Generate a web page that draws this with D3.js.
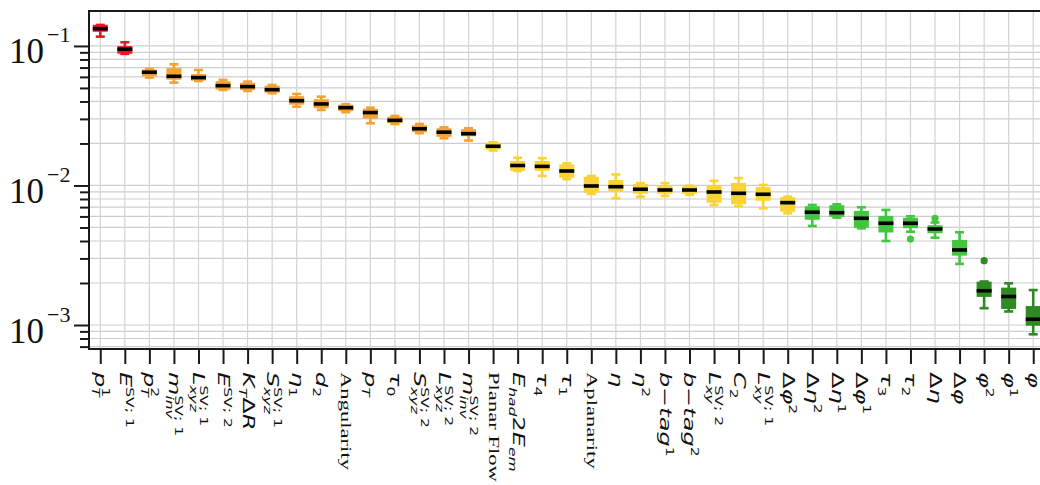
<!DOCTYPE html>
<html>
<head>
<meta charset="utf-8">
<script src="https://cdn.jsdelivr.net/npm/d3@7"></script>
<style>
  body { margin: 0; background: #fff; }
  svg { display: block; }
</style>
</head>
<body>
<svg id="chart"></svg>
<script>
// Feature names (math labels between $...$, plain ones in serif)
const features = [
  "$p_T^1$", "$E^{SV; 1}$", "$p_T^2$", "$m_{inv}^{SV; 1}$", "$L_{xyz}^{SV; 1}$",
  "$E^{SV; 2}$", "$K_TΔR$", "$S_{xyz}^{SV; 1}$", "$η_1$", "$d_2$",
  "Angularity", "$p_T$", "$τ_0$", "$S_{xyz}^{SV; 2}$", "$L_{xyz}^{SV; 2}$",
  "$m_{inv}^{SV; 2}$", "Planar Flow", "$E_{had}2E_{em}$", "$τ_4$", "$τ_1$",
  "Aplanarity", "$η$", "$η^2$", "$b−tag^1$", "$b−tag^2$",
  "$L_{xy}^{SV; 2}$", "$C_2$", "$L_{xy}^{SV; 1}$", "$Δφ^2$", "$Δη^2$",
  "$Δη^1$", "$Δφ^1$", "$τ_3$", "$τ_2$", "$Δη$",
  "$Δφ$", "$φ^2$", "$φ^1$", "$φ$"
];

// colour group of each feature
const groups = [
  "red", "red",
  "orange", "orange", "orange", "orange", "orange", "orange", "orange", "orange",
  "orange", "orange", "orange", "orange", "orange", "orange",
  "yellow", "yellow", "yellow", "yellow", "yellow", "yellow", "yellow", "yellow",
  "yellow", "yellow", "yellow", "yellow", "yellow",
  "green", "green", "green", "green", "green", "green", "green",
  "dkgreen", "dkgreen", "dkgreen"
];

const whiskerHi = [
  0.1414, 0.1063, 0.0684, 0.0739, 0.0673, 0.0571, 0.0555, 0.0525, 0.0453, 0.0433,
  0.0382, 0.0361, 0.0315, 0.0276, 0.0261, 0.0257, 0.0204, 0.0158, 0.0157, 0.0144,
  0.0117, 0.0120, 0.0104, 0.0104, 0.00997, 0.0108, 0.0113, 0.0101, 0.00831, 0.00725,
  0.00733, 0.00698, 0.00668, 0.00601, 0.00543, 0.00462, 0.00205, 0.00199, 0.00178
];
const q3 = [
  0.1400, 0.0985, 0.0668, 0.0684, 0.0620, 0.0552, 0.0538, 0.0512, 0.0431, 0.0410,
  0.0375, 0.0350, 0.0307, 0.0267, 0.0254, 0.0250, 0.0200, 0.0148, 0.0148, 0.0140,
  0.0114, 0.0108, 0.0101, 0.00976, 0.00976, 0.00992, 0.0103, 0.00960, 0.00814, 0.00701,
  0.00713, 0.00649, 0.00598, 0.00580, 0.00513, 0.00402, 0.00202, 0.00183, 0.00135
];
const medians = [
  0.1330, 0.0947, 0.0648, 0.0606, 0.0593, 0.0519, 0.0511, 0.0486, 0.0405, 0.0384,
  0.0361, 0.0333, 0.0293, 0.0255, 0.0241, 0.0235, 0.0191, 0.0139, 0.0137, 0.0127,
  0.00992, 0.00980, 0.00939, 0.00928, 0.00928, 0.00898, 0.00879, 0.00865, 0.00753, 0.00643,
  0.00638, 0.00582, 0.00536, 0.00536, 0.00488, 0.00345, 0.00176, 0.00160, 0.00110
];
const q1 = [
  0.1280, 0.0891, 0.0614, 0.0580, 0.0571, 0.0492, 0.0488, 0.0468, 0.0384, 0.0362,
  0.0345, 0.0305, 0.0283, 0.0244, 0.0226, 0.0228, 0.0183, 0.0129, 0.0129, 0.0115,
  0.00898, 0.00918, 0.00884, 0.00884, 0.00884, 0.00762, 0.00743, 0.00787, 0.00656, 0.00575,
  0.00604, 0.00504, 0.00466, 0.00500, 0.00460, 0.00318, 0.00161, 0.00132, 0.00100
];
const whiskerLo = [
  0.1166, 0.0877, 0.0593, 0.0546, 0.0561, 0.0484, 0.0476, 0.0458, 0.0367, 0.0348,
  0.0335, 0.0279, 0.0276, 0.0237, 0.0218, 0.0210, 0.0178, 0.0127, 0.0117, 0.0111,
  0.00869, 0.00810, 0.00831, 0.00841, 0.00859, 0.00725, 0.00713, 0.00686, 0.00632, 0.00513,
  0.00588, 0.00493, 0.00400, 0.00466, 0.00422, 0.00274, 0.00132, 0.00125, 0.000858
];
// outliers: [feature index, value]
const fliers = [[33, 0.00413], [34, 0.00582], [36, 0.00289]];

const majorTicks = [1e-3, 1e-2, 1e-1];
const majorExps = ["−3", "−2", "−1"];

const colors = {
  red: "#eb1524",
  orange: "#f5a131",
  yellow: "#f9d333",
  green: "#42c63f",
  dkgreen: "#2e8b23"
};

const width = 1040;
const height = 485;
const plotLeft = 89, plotTop = 11, plotBottom = 349, plotRight = 1045.5;

const svg = d3.select("#chart").attr("width", width).attr("height", height);
svg.append("rect").attr("width", width).attr("height", height).attr("fill", "#fff");

const x = d3.scalePoint()
  .domain(d3.range(features.length))
  .range([plotLeft - 1, plotRight])
  .padding(0.5);

const y = d3.scaleLog()
  .domain([6.73e-4, 0.178])
  .range([plotBottom, plotTop]);

const minorTicks = y.ticks().filter((v) => !majorTicks.some((m) => Math.abs(m - v) / m < 1e-6));

// grid
const grid = svg.append("g").attr("class", "grid");
grid.selectAll(".hgrid")
  .data(majorTicks.concat(minorTicks))
  .enter()
  .append("line")
  .attr("x1", plotLeft)
  .attr("x2", plotRight)
  .attr("y1", (d) => y(d))
  .attr("y2", (d) => y(d))
  .style("stroke", "#cdcdcd")
  .style("stroke-width", "1.2px");
grid.selectAll(".vgrid")
  .data(d3.range(features.length))
  .enter()
  .append("line")
  .attr("x1", (d) => x(d))
  .attr("x2", (d) => x(d))
  .attr("y1", plotTop)
  .attr("y2", plotBottom)
  .style("stroke", "#d3d3d3")
  .style("stroke-width", "1.2px");

// boxes
const boxW = 13.5, capW = 9, medW = 15;
const boxes = svg.append("g").attr("class", "boxes")
  .selectAll("g")
  .data(d3.range(features.length))
  .enter()
  .append("g")
  .attr("transform", (i) => `translate(${x(i)},0)`);

boxes.each(function (i) {
  const g = d3.select(this);
  const c = colors[groups[i]];
  // whiskers
  g.append("line")
    .attr("y1", y(whiskerHi[i])).attr("y2", y(q3[i]))
    .style("stroke", c).style("stroke-width", "2.6px");
  g.append("line")
    .attr("y1", y(q1[i])).attr("y2", y(whiskerLo[i]))
    .style("stroke", c).style("stroke-width", "2.6px");
  // caps
  [whiskerHi[i], whiskerLo[i]].forEach((v) => {
    g.append("line")
      .attr("x1", -capW / 2).attr("x2", capW / 2)
      .attr("y1", y(v)).attr("y2", y(v))
      .style("stroke", c).style("stroke-width", "2.6px");
  });
  // box
  g.append("rect")
    .attr("x", -boxW / 2)
    .attr("width", boxW)
    .attr("y", y(q3[i]))
    .attr("height", Math.max(1, y(q1[i]) - y(q3[i])))
    .style("fill", c)
    .style("stroke", c)
    .style("stroke-width", "1.5px");
  // median
  g.append("line")
    .attr("x1", -medW / 2).attr("x2", medW / 2)
    .attr("y1", y(medians[i])).attr("y2", y(medians[i]))
    .style("stroke", "#000").style("stroke-width", "3.6px");
});

svg.append("g").attr("class", "fliers")
  .selectAll("circle")
  .data(fliers)
  .enter()
  .append("circle")
  .attr("cx", (d) => x(d[0]))
  .attr("cy", (d) => y(d[1]))
  .attr("r", 3.6)
  .style("fill", (d) => colors[groups[d[0]]]);

// frame
svg.append("rect")
  .attr("x", plotLeft)
  .attr("y", plotTop)
  .attr("width", plotRight + 20 - plotLeft)
  .attr("height", plotBottom - plotTop)
  .style("fill", "none")
  .style("stroke", "#1a1a1a")
  .style("stroke-width", "2px");

// y axis: major and minor ticks
const yMajor = svg.append("g")
  .attr("transform", `translate(${plotLeft},0)`)
  .call(d3.axisLeft(y).tickValues(majorTicks).tickSize(15).tickSizeOuter(0).tickFormat(() => ""));
const yMinor = svg.append("g")
  .attr("transform", `translate(${plotLeft},0)`)
  .call(d3.axisLeft(y).tickValues(minorTicks).tickSize(9).tickSizeOuter(0).tickFormat(() => ""));
[yMajor, yMinor].forEach((a) => {
  a.select(".domain").remove();
  a.selectAll(".tick line").style("stroke", "#1a1a1a").style("stroke-width", "2px");
});

yMajor.selectAll(".tick").each(function (d, i) {
  const t = d3.select(this);
  t.append("text")
    .attr("x", -45)
    .attr("y", 17)
    .attr("text-anchor", "end")
    .style("font-family", "'Liberation Serif', 'DejaVu Serif', serif")
    .style("font-size", "35px")
    .style("fill", "#111")
    .text("10");
  t.append("text")
    .attr("x", -42)
    .attr("y", -4)
    .attr("text-anchor", "start")
    .style("font-family", "'Liberation Serif', 'DejaVu Serif', serif")
    .style("font-size", "22px")
    .style("fill", "#111")
    .text(majorExps[i]);
});

// x axis
const xAxis = svg.append("g")
  .attr("transform", `translate(0,${plotBottom})`)
  .call(d3.axisBottom(x).tickSize(15).tickSizeOuter(0).tickFormat(() => ""));
xAxis.select(".domain").remove();
xAxis.selectAll(".tick line").style("stroke", "#1a1a1a").style("stroke-width", "2px");

// parse a small math string into pieces
function parseMath(s) {
  const out = [];
  let i = 0;
  while (i < s.length) {
    const c = s[i];
    if (c === "_" || c === "^") {
      let txt;
      if (s[i + 1] === "{") {
        const j = s.indexOf("}", i + 2);
        txt = s.slice(i + 2, j);
        i = j + 1;
      } else {
        txt = s[i + 1];
        i += 2;
      }
      out.push({ text: txt, kind: c === "_" ? "sub" : "sup", italic: /^[A-Za-z]+$/.test(txt) });
    } else {
      out.push({ text: c, kind: "base", italic: /[A-Za-zα-ω]/.test(c) });
      i++;
    }
  }
  return out;
}

const mathSize = 15.5;
const scriptRatio = 0.65;
const serifSize = 14.6;
const stretch = 1.55;

xAxis.selectAll(".tick").each(function (idx) {
  const label = features[idx];
  const g = d3.select(this).append("g")
    .attr("text-anchor", "start")
    .attr("transform", `translate(0,23) rotate(90) scale(${stretch},1)`);
  if (!label.startsWith("$")) {
    g.append("text")
      .attr("x", 0)
      .attr("y", serifSize * 0.33)
      .attr("text-anchor", "start")
      .style("font-family", "'Liberation Serif', 'Times New Roman', serif")
      .style("font-size", serifSize + "px")
      .style("fill", "#111")
      .text(label);
    return;
  }
  const pieces = parseMath(label.slice(1, -1));
  let cursor = 0;
  let lastScriptStart = null, lastScriptW = 0, lastKind = null;
  pieces.forEach((p) => {
    if (p.kind === "base" && p.text === " ") {
      cursor += mathSize * 0.22;
      lastKind = "base";
      return;
    }
    const fs = p.kind === "base" ? mathSize : mathSize * scriptRatio;
    let px = cursor;
    // stack a superscript right on top of a preceding subscript
    if (p.kind === "sup" && lastKind === "sub") px = lastScriptStart;
    const dy = p.kind === "base" ? mathSize * 0.36
      : p.kind === "sub" ? mathSize * 0.36 + mathSize * 0.2
      : mathSize * 0.36 - mathSize * 0.42;
    const t = g.append("text")
      .attr("x", px)
      .attr("y", dy)
      .attr("text-anchor", "start")
      .style("font-family", "'DejaVu Sans', sans-serif")
      .style("font-size", fs + "px")
      .style("font-style", p.italic ? "italic" : "normal")
      .style("fill", "#111")
      .text(p.text);
    const w = t.node().getComputedTextLength();
    if (p.kind === "sup" && lastKind === "sub") {
      cursor = lastScriptStart + Math.max(w, lastScriptW);
    } else {
      cursor = px + w;
    }
    lastScriptStart = px;
    lastScriptW = w;
    lastKind = p.kind;
  });
});
</script>
</body>
</html>
